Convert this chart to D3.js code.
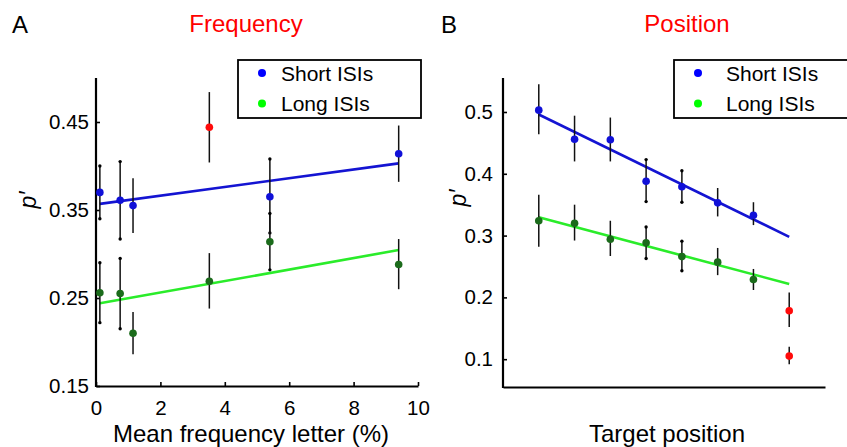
<!DOCTYPE html>
<html>

<head>
    <style>
        body {
            margin: 0;
            background: white;
        }

        svg text {
            font-family: "Liberation Sans", Arial, Helvetica, sans-serif;
        }
    </style>
</head>

<body>
    <div id="chart"></div>
    <script src="https://d3js.org/d3.v7.min.js"></script>
    <script>

        // ---- panel A: frequency ----
        const freqShortX = [0.12, 0.75, 1.15, 5.4, 9.4]
        const freqShortY = [0.370, 0.361, 0.355, 0.365, 0.414]
        const freqShortLo = [0.340, 0.317, 0.324, 0.324, 0.382]
        const freqShortHi = [0.400, 0.405, 0.386, 0.408, 0.446]
        const freqShortCap = [true, true, false, true, false]

        const freqLongX = [0.12, 0.75, 1.15, 3.52, 5.4, 9.4]
        const freqLongY = [0.256, 0.255, 0.210, 0.269, 0.314, 0.288]
        const freqLongLo = [0.222, 0.215, 0.186, 0.238, 0.282, 0.260]
        const freqLongHi = [0.290, 0.295, 0.234, 0.301, 0.346, 0.317]
        const freqLongCap = [true, true, false, false, true, false]

        const freqOutX = [3.52]
        const freqOutY = [0.444]
        const freqOutLo = [0.404]
        const freqOutHi = [0.484]

        const freqFitX = [0.12, 9.4]
        const freqFitShort = [0.357, 0.403]
        const freqFitLong = [0.244, 0.3045]

        const freqXTicks = [0, 2, 4, 6, 8, 10]
        const freqYTicks = [0.15, 0.25, 0.35, 0.45]

        // ---- panel B: position ----
        const posShortX = [1, 2, 3, 4, 5, 6, 7]
        const posShortY = [0.503, 0.456, 0.455, 0.388, 0.379, 0.353, 0.333]
        const posShortLo = [0.464, 0.420, 0.420, 0.355, 0.354, 0.331, 0.317]
        const posShortHi = [0.545, 0.494, 0.491, 0.423, 0.405, 0.377, 0.354]
        const posShortCap = [false, false, false, true, true, false, false]

        const posLongX = [1, 2, 3, 4, 5, 6, 7]
        const posLongY = [0.324, 0.320, 0.294, 0.2885, 0.266, 0.257, 0.229]
        const posLongLo = [0.282, 0.292, 0.267, 0.263, 0.243, 0.236, 0.212]
        const posLongHi = [0.366, 0.350, 0.324, 0.314, 0.291, 0.280, 0.246]
        const posLongCap = [false, false, false, true, true, false, false]

        const posOutX = [8, 8]
        const posOutY = [0.1785, 0.105]
        const posOutLo = [0.152, 0.092]
        const posOutHi = [0.208, 0.120]

        const posFitX = [1, 8]
        const posFitShort = [0.496, 0.298]
        const posFitLong = [0.3296, 0.2217]

        const posYTicks = [0.1, 0.2, 0.3, 0.4, 0.5]

        const seriesNames = ["Short ISIs", "Long ISIs"]

        const W = 847, H = 447
        const svg = d3.select("#chart").append("svg")
            .attr("width", W)
            .attr("height", H)

        function zip(xs, ys, lo, hi, cap) {
            return xs.map((x, i) => ({ x: x, y: ys[i], lo: lo[i], hi: hi[i], cap: cap ? cap[i] : false }))
        }

        function drawPanel(p) {
            const g = svg.append("g")
            const x = d3.scaleLinear().domain(p.xDomain).range(p.xRange)
            const y = d3.scaleLinear().domain(p.yDomain).range(p.yRange)

            // letter + title
            g.append("text").attr("x", p.letterX).attr("y", 33)
                .style("font-size", "24px").text(p.letter)
            g.append("text").attr("x", p.titleX).attr("y", 32)
                .attr("text-anchor", "middle")
                .style("font-size", "24px").attr("fill", "#ff0000").text(p.title)

            // axes
            const yAxis = d3.axisLeft(y).tickValues(p.yTicks)
                .tickFormat(d3.format(p.yFormat))
                .tickSizeInner(-4).tickSizeOuter(0).tickPadding(p.yPad)
            const ya = g.append("g").attr("transform", "translate(" + p.xRange[0] + ",0)").call(yAxis)

            const xAxis = d3.axisBottom(x).tickSizeOuter(0)
            if (p.xTicks) {
                xAxis.tickValues(p.xTicks).tickSizeInner(-4).tickPadding(14)
            } else {
                xAxis.tickValues([])
            }
            const xa = g.append("g").attr("transform", "translate(0," + p.yRange[0] + ")").call(xAxis)

            for (const a of [ya, xa]) {
                a.select(".domain").attr("stroke", "#000").attr("stroke-width", 2.2)
                a.selectAll(".tick line").attr("stroke", "#000").attr("stroke-width", 1.6)
                a.selectAll(".tick text").attr("fill", "#000")
                    .style("font-size", "20.5px")
                    .style("font-family", "'Liberation Sans', Arial, sans-serif")
            }
            // extend y axis line to the corner
            ya.select(".domain").attr("d", "M0," + (p.yRange[0] + 1) + "V" + p.yRange[1])

            // axis labels
            g.append("text").attr("x", p.xLabelX).attr("y", 442)
                .attr("text-anchor", "middle").style("font-size", "24px").text(p.xLabel)
            g.append("text")
                .attr("transform", "translate(" + p.yLabelX + "," + p.yLabelY + ") rotate(-90)")
                .attr("text-anchor", "middle")
                .style("font-size", "23px").style("font-style", "italic")
                .text("p\u2032")

            // fit lines
            const line = d3.line().x(d => x(d[0])).y(d => y(d[1]))
            p.fits.forEach(f => {
                g.append("path")
                    .datum(p.fitX.map((v, i) => [v, f.vals[i]]))
                    .attr("d", line)
                    .attr("fill", "none")
                    .attr("stroke", f.color)
                    .attr("stroke-width", 2.6)
            })

            // error bars + points
            p.sets.forEach(s => {
                const eg = g.append("g")
                eg.selectAll("line.err").data(s.data).enter().append("line")
                    .attr("class", "err")
                    .attr("x1", d => x(d.x)).attr("x2", d => x(d.x))
                    .attr("y1", d => y(d.lo)).attr("y2", d => y(d.hi))
                    .attr("stroke", "#111").attr("stroke-width", 1.5)
                const caps = s.data.filter(d => d.cap)
                eg.selectAll("circle.cap")
                    .data(caps.flatMap(d => [[d.x, d.lo], [d.x, d.hi]]))
                    .enter().append("circle")
                    .attr("class", "cap")
                    .attr("cx", d => x(d[0])).attr("cy", d => y(d[1]))
                    .attr("r", 1.7).attr("fill", "#000")
                eg.selectAll("circle.pt").data(s.data).enter().append("circle")
                    .attr("class", "pt")
                    .attr("cx", d => x(d.x)).attr("cy", d => y(d.y))
                    .attr("r", 3.8).attr("fill", s.color)
            })

            // legend
            const lg = g.append("g")
            lg.append("rect")
                .attr("x", p.legendX).attr("y", 60)
                .attr("width", p.legendW).attr("height", 58)
                .attr("fill", "white").attr("stroke", "#000").attr("stroke-width", 1.8)
            const legendColors = ["#0000ff", "#00ff00"]
            seriesNames.forEach((n, i) => {
                lg.append("circle")
                    .attr("cx", p.legendX + p.markerDx).attr("cy", 73 + i * 30.5)
                    .attr("r", 4).attr("fill", legendColors[i])
                lg.append("text")
                    .attr("x", p.legendX + p.textDx).attr("y", 73 + i * 30.5)
                    .attr("dy", "0.36em")
                    .style("font-size", "21px").text(n)
            })
        }

        drawPanel({
            letter: "A", letterX: 12, title: "Frequency", titleX: 246,
            xDomain: [0, 10], xRange: [96, 418],
            yDomain: [0.15, 0.50], yRange: [386, 78],
            xTicks: freqXTicks, yTicks: freqYTicks, yFormat: ".2f", yPad: 7,
            xLabel: "Mean frequency letter (%)", xLabelX: 251,
            yLabelX: 36, yLabelY: 200,
            fitX: freqFitX,
            fits: [{ vals: freqFitShort, color: "#1414d2" }, { vals: freqFitLong, color: "#2aec2a" }],
            sets: [
                { data: zip(freqShortX, freqShortY, freqShortLo, freqShortHi, freqShortCap), color: "#1010d8" },
                { data: zip(freqLongX, freqLongY, freqLongLo, freqLongHi, freqLongCap), color: "#1b6b1b" },
                { data: zip(freqOutX, freqOutY, freqOutLo, freqOutHi), color: "#ff0a0a" }
            ],
            legendX: 238, legendW: 183, markerDx: 24, textDx: 43
        })

        drawPanel({
            letter: "B", letterX: 441, title: "Position", titleX: 687,
            xDomain: [0, 9], xRange: [503, 825],
            yDomain: [0.055, 0.555], yRange: [387, 78],
            xTicks: null, yTicks: posYTicks, yFormat: ".1f", yPad: 10,
            xLabel: "Target position", xLabelX: 667,
            yLabelX: 466, yLabelY: 198,
            fitX: posFitX,
            fits: [{ vals: posFitShort, color: "#1414d2" }, { vals: posFitLong, color: "#2aec2a" }],
            sets: [
                { data: zip(posShortX, posShortY, posShortLo, posShortHi, posShortCap), color: "#1010d8" },
                { data: zip(posLongX, posLongY, posLongLo, posLongHi, posLongCap), color: "#1b6b1b" },
                { data: zip(posOutX, posOutY, posOutLo, posOutHi), color: "#ff0a0a" }
            ],
            legendX: 674, legendW: 190, markerDx: 24, textDx: 52
        })

    </script>
</body>

</html>
